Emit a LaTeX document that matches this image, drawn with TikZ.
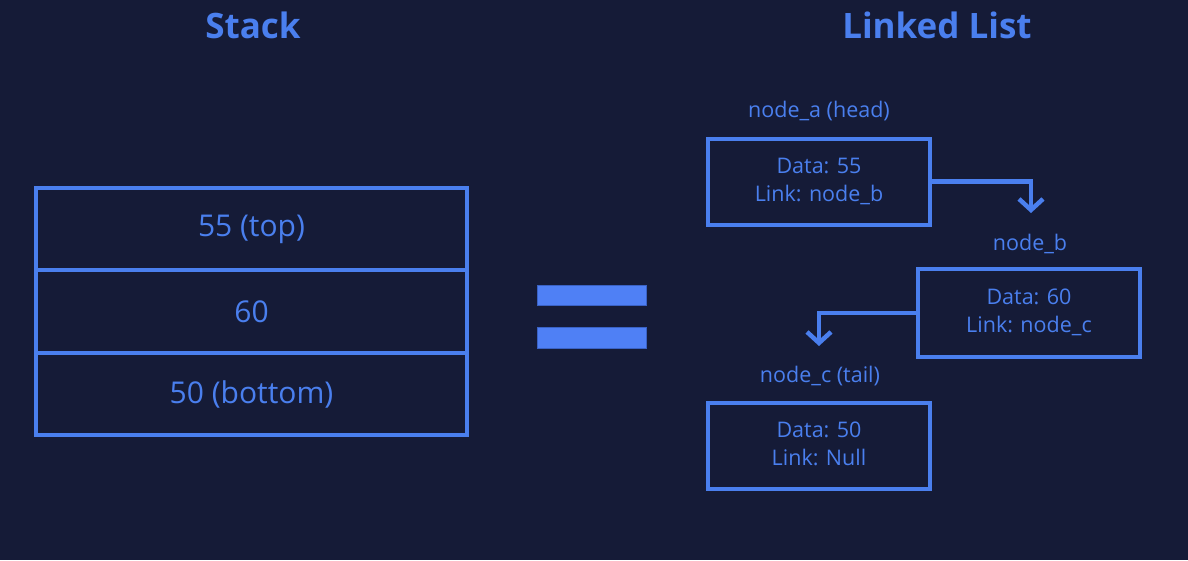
\documentclass[tikz,border=0pt]{standalone}
\usepackage{fontspec}
\setmainfont{Open Sans}
\usetikzlibrary{arrows.meta}
\definecolor{bg}{HTML}{151B37}
\definecolor{blu}{HTML}{4A7FEE}
\definecolor{bar}{HTML}{4F80F5}
\definecolor{baredge}{HTML}{3A62C4}
\tikzset{
  title/.style={text=blu, font=\fontsize{35}{40}\selectfont\bfseries},
  cell/.style={draw=blu, line width=4.2pt, minimum width=431pt, minimum height=82.5pt, inner sep=0pt, text=blu, font=\fontsize{30}{34}\selectfont},
  llbox/.style={draw=blu, line width=4pt, minimum width=222pt, minimum height=86pt, inner sep=0pt, text=blu, font=\fontsize{21.5}{28}\selectfont},
  lbl/.style={text=blu, font=\fontsize{21.5}{26}\selectfont},
  link/.style={draw=blu, line width=4.5pt, -{Straight Barb[length=11pt, width=24pt, line width=4.5pt]}},
  eqbar/.style={fill=bar, draw=baredge, line width=1pt}
}
\newcommand{\lowr}[1]{\raisebox{-3pt}{#1}}
\newcommand{\twol}[2]{\raisebox{-2pt}{\begin{tabular}{@{}c@{}}#1\\#2\end{tabular}}}
\begin{document}
\begin{tikzpicture}[x=1pt, y=-1pt]
\fill[bg] (0,0) rectangle (1188,560);
\useasboundingbox (0,0) rectangle (1188,560);

\node[title] (tstack) at (253,25) {Stack};
\node[title] (tlist) at (937,25) {Linked List};

\node[cell] (top) at (251.5,229) {\lowr{55 (top)}};
\node[cell] (mid) at (251.5,311.5) {\lowr{60}};
\node[cell] (bot) at (251.5,394) {\lowr{50 (bottom)}};

\draw[eqbar] (537,285) rectangle (646,305);
\draw[eqbar] (537,327) rectangle (646,348);

\node[lbl] (la) at (819,111.5) {node\_a (head)};
\node[llbox] (na) at (819,181.5) {\twol{Data: 55}{Link: node\_b}};

\node[lbl] (lb) at (1030,243.5) {node\_b};
\node[llbox, minimum height=88pt] (nb) at (1029,313) {\twol{Data: 60}{Link: node\_c}};

\node[lbl] (lc) at (820,376.5) {node\_c (tail)};
\node[llbox] (nc) at (819,445.5) {\twol{Data: 50}{Link: Null}};

\coordinate (ab) at (1031,213);
\coordinate (bc) at (819,346);
\draw[link] (na.east) -| (ab);
\draw[link] (nb.west) -| (bc);
\end{tikzpicture}
\end{document}
